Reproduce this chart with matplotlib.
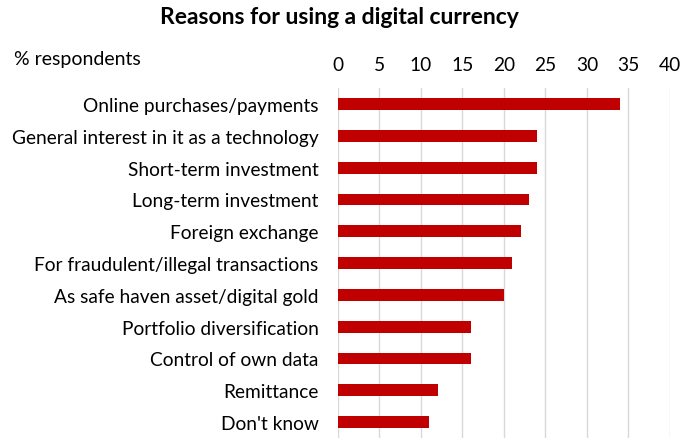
import matplotlib
matplotlib.use("Agg")
import matplotlib.pyplot as plt

plt.rcParams['font.family'] = ['Lato', 'DejaVu Sans']

categories = [
    "Online purchases/payments",
    "General interest in it as a technology",
    "Short-term investment",
    "Long-term investment",
    "Foreign exchange",
    "For fraudulent/illegal transactions",
    "As safe haven asset/digital gold",
    "Portfolio diversification",
    "Control of own data",
    "Remittance",
    "Don't know",
]
values = [34, 24, 24, 23, 22, 21, 20, 16, 16, 12, 11]
xticks = [0, 5, 10, 15, 20, 25, 30, 35, 40]

fig = plt.figure(figsize=(6.98, 4.39), dpi=100)
ax = fig.add_axes([0.4842, 0.0, 0.4756, 0.797])

pos = range(len(categories))
ax.barh(pos, values, height=0.37, color='#c00000', zorder=3)

ax.set_ylim(len(categories) - 0.5, -0.5)
ax.set_xlim(0, 40)
ax.set_xticks(xticks)
ax.set_yticks(list(pos))
ax.set_yticklabels(categories, fontsize=13.8)
ax.xaxis.tick_top()
ax.tick_params(axis='x', length=0, pad=11, labelsize=13.8)
ax.tick_params(axis='y', length=0, pad=14)
ax.grid(axis='x', color='#d9d9d9', linewidth=1, zorder=0)
for s in ax.spines.values():
    s.set_visible(False)

fig.text(0.486, 0.96, "Reasons for using a digital currency", ha='center',
         va='center', fontsize=16.5, fontweight='bold')
fig.text(0.02, 0.865, "% respondents", ha='left', va='center', fontsize=14)

fig.savefig("out.png", dpi=100)
